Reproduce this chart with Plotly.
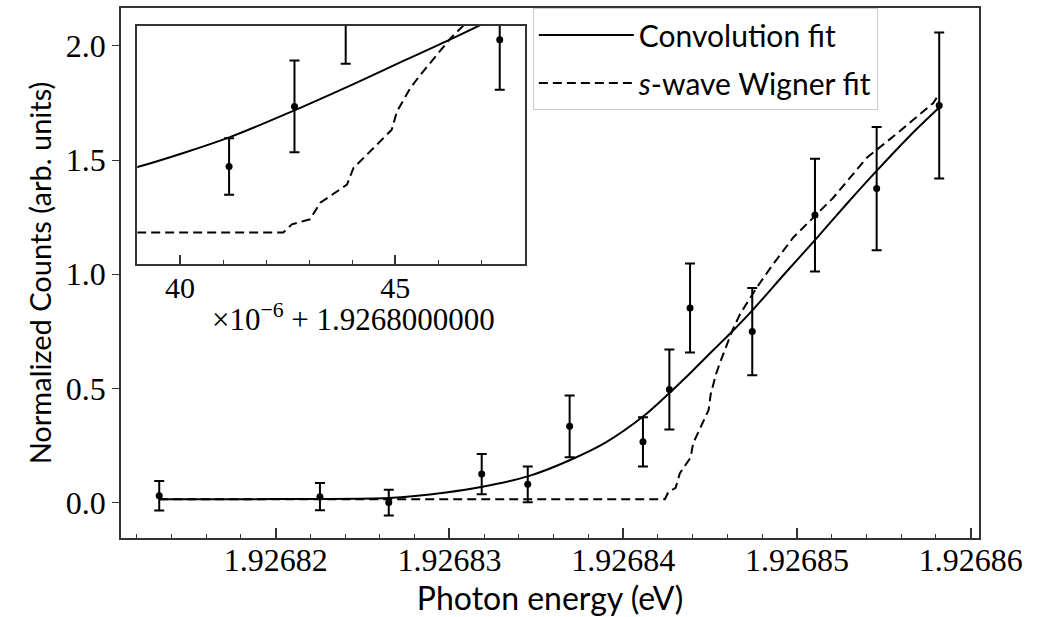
import plotly.graph_objects as go

# measured points (photon energy in eV, normalized counts, 1-sigma error)
energy = [1.92681330, 1.92682255, 1.92682651, 1.92683186, 1.92683451, 1.92683692,
          1.92684114, 1.92684266, 1.92684385, 1.92684743, 1.92685104, 1.92685459,
          1.92685819]
counts = [0.030, 0.026, 0.000, 0.125, 0.080, 0.334, 0.266, 0.495, 0.852, 0.749,
          1.259, 1.375, 1.739]
counts_err = [0.065, 0.060, 0.056, 0.088, 0.078, 0.135, 0.108, 0.175, 0.195, 0.191,
              0.247, 0.270, 0.320]

# fit curves, x given as micro-eV above 1.9268 eV
offset = 1.9268
conv_x_ueV = [13.30, 18.0, 22.0, 26.5, 29.8, 31.9, 34.6, 37.05, 39.03, 41.16, 42.63,
              44.03, 45.19, 46.36, 47.49, 49.27, 51.09, 52.91, 54.64, 56.55, 58.19]
conv_y = [0.015, 0.015, 0.016, 0.020, 0.044, 0.069, 0.117, 0.190, 0.265, 0.378, 0.478,
          0.580, 0.668, 0.756, 0.846, 1.000, 1.154, 1.312, 1.457, 1.610, 1.730]
wig_x_ueV = [13.30, 42.40, 42.60, 43.02, 43.26, 43.88, 44.03, 44.92, 45.04, 45.35, 45.58,
             46.28, 46.73, 47.69, 48.64, 49.79, 50.94, 52.09, 54.02, 55.93, 57.85, 58.19]
wig_y = [0.015, 0.015, 0.046, 0.065, 0.128, 0.197, 0.260, 0.406, 0.475, 0.564, 0.614,
         0.753, 0.826, 0.942, 1.045, 1.161, 1.248, 1.335, 1.510, 1.627, 1.750, 1.790]

conv_x = [offset + v * 1e-6 for v in conv_x_ueV]
wig_x = [offset + v * 1e-6 for v in wig_x_ueV]

SERIF = "Liberation Serif"
SANS = "Lato"
FRAME = "#333333"

fig = go.Figure()

for xa, ya, legend in [("x", "y", True), ("x2", "y2", False)]:
    fig.add_trace(go.Scatter(x=conv_x, y=conv_y, mode="lines", name="Convolution fit",
                             line=dict(color="black", width=2, shape="spline", smoothing=0.8),
                             xaxis=xa, yaxis=ya, showlegend=legend, legendgroup="conv"))
    fig.add_trace(go.Scatter(x=wig_x, y=wig_y, mode="lines",
                             name="<i>s</i>-wave Wigner fit",
                             line=dict(color="black", width=2, dash="9px,5px"),
                             xaxis=xa, yaxis=ya, showlegend=legend, legendgroup="wig"))
    fig.add_trace(go.Scatter(x=energy, y=counts, mode="markers", showlegend=False,
                             marker=dict(color="black", size=7),
                             error_y=dict(type="data", array=counts_err, color="black",
                                          thickness=2, width=5),
                             xaxis=xa, yaxis=ya))

fig.update_layout(
    width=1046, height=617,
    margin=dict(l=121, r=67, t=6, b=79),
    paper_bgcolor="white", plot_bgcolor="white",
    font=dict(family=SERIF, size=32, color="black"),
    legend=dict(x=0.480, y=1.0, xanchor="left", yanchor="top",
                bgcolor="rgba(255,255,255,0.85)", bordercolor="#cccccc", borderwidth=1,
                font=dict(family=SANS, size=30), itemwidth=95,
                traceorder="grouped", tracegroupgap=6),
    xaxis=dict(range=[1.9268111, 1.92686048], tickmode="linear", tick0=1.92682, dtick=1e-5,
               tickformat=".5f", ticks="inside", ticklen=10, tickwidth=2, tickcolor=FRAME,
               ticklabelstandoff=-7,
               minor=dict(ticks="inside", dtick=2e-6, ticklen=4, tickwidth=1, tickcolor=FRAME),
               showline=True, mirror=True, linecolor=FRAME, linewidth=1.5, showgrid=False,
               zeroline=False, tickfont=dict(family=SERIF, size=32),
               title=dict(text="Photon energy (eV)", font=dict(family=SANS, size=32), standoff=8)),
    yaxis=dict(range=[-0.155, 2.166], tickvals=[0, 0.5, 1.0, 1.5, 2.0], tickformat=".1f",
               ticks="outside", ticklen=7, tickwidth=1, tickcolor=FRAME,
               showline=True, mirror=True, linecolor=FRAME, linewidth=1.5, showgrid=False,
               zeroline=False, tickfont=dict(family=SERIF, size=32),
               title=dict(text="Normalized Counts (arb. units)",
                          font=dict(family=SANS, size=29), standoff=6)),
    xaxis2=dict(domain=[0.019, 0.471], anchor="y2", range=[1.926839007, 1.92684802],
                tickmode="array", tickvals=[1.92684, 1.926845], ticktext=["40", "45"],
                ticks="inside", ticklen=9, tickwidth=2, tickcolor=FRAME,
                ticklabelstandoff=-4,
                minor=dict(ticks="inside", tickmode="linear", tick0=1.92684, dtick=1e-6,
                           ticklen=4, tickwidth=1, tickcolor=FRAME),
                showline=True, mirror=True, linecolor=FRAME, linewidth=1.5, showgrid=False,
                zeroline=False, tickfont=dict(family=SERIF, size=30)),
    yaxis2=dict(domain=[0.5166, 0.966], anchor="x2", range=[-0.106, 0.801],
                showticklabels=False, ticks="", showline=True, mirror=True,
                linecolor=FRAME, linewidth=1.5, showgrid=False, zeroline=False),
)

fig.add_annotation(text="×10<sup>−6</sup> + 1.9268000000", xref="paper", yref="paper",
                   x=0.104, y=0.416, xanchor="left", yanchor="middle", showarrow=False,
                   font=dict(family=SERIF, size=31))

fig.write_html("out.html", config={"displayModeBar": False},
               post_script="document.body.style.margin='0px';")
